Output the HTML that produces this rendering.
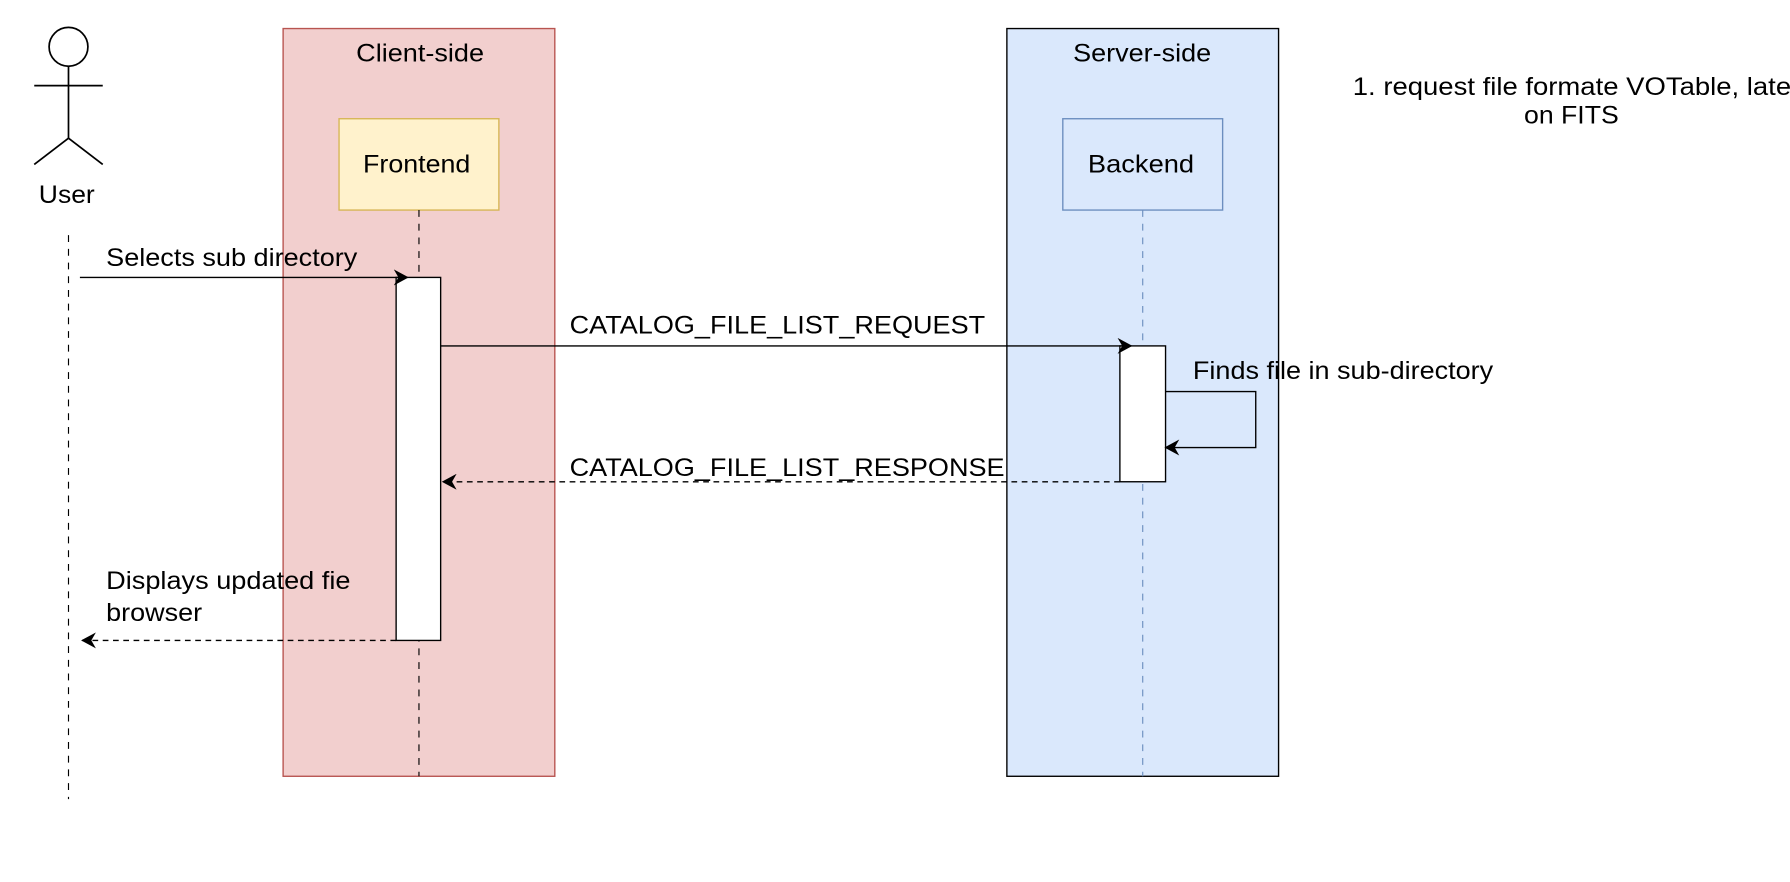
<!DOCTYPE html>
<html><head><meta charset="utf-8"><style>html,body{margin:0;padding:0;background:#fff;}svg{display:block}text{font-family:"Liberation Sans",Arial,sans-serif;font-size:22px;}</style></head>
<body>
<svg width="1790" height="882" viewBox="0 0 1568 772.6" xmlns="http://www.w3.org/2000/svg">
<defs>
<marker id="a" markerWidth="14" markerHeight="14" refX="12" refY="7" orient="auto" markerUnits="userSpaceOnUse">
<path d="M0,0 L13,7 L0,14 L4,7 Z" fill="#000"/>
</marker>
</defs>
<rect x="0" y="0" width="1568" height="772.6" fill="#fff"/>
<circle cx="60" cy="41" r="17" fill="#fff" stroke="#000" stroke-width="1.5"/>
<line x1="60" y1="58" x2="60" y2="121" stroke="#000" stroke-width="1.5"/>
<line x1="30" y1="75" x2="90" y2="75" stroke="#000" stroke-width="1.5"/>
<line x1="60" y1="121" x2="30" y2="144" stroke="#000" stroke-width="1.5"/>
<line x1="60" y1="121" x2="90" y2="144" stroke="#000" stroke-width="1.5"/>
<text x="34" y="178" textLength="49" lengthAdjust="spacingAndGlyphs">User</text>
<line x1="60" y1="206" x2="60" y2="700" stroke="#000" stroke-dasharray="6,6"/>
<rect x="248" y="25" width="238" height="655" fill="#f2cfce" stroke="#b85450" stroke-width="1.2"/>
<text x="312" y="54" textLength="112" lengthAdjust="spacingAndGlyphs">Client-side</text>
<rect x="297" y="104" width="140" height="80" fill="#fff2cc" stroke="#d6b656" stroke-width="1.2"/>
<text x="318" y="151" textLength="94" lengthAdjust="spacingAndGlyphs">Frontend</text>
<line x1="367" y1="184" x2="367" y2="680" stroke="#000" stroke-dasharray="6,6"/>
<rect x="347" y="243" width="39" height="318" fill="#fff" stroke="#000" stroke-width="1.2"/>
<rect x="882" y="25" width="238" height="655" fill="#dae8fc" stroke="#000" stroke-width="1.2"/>
<text x="940" y="54" textLength="121" lengthAdjust="spacingAndGlyphs">Server-side</text>
<rect x="931" y="104" width="140" height="80" fill="#dae8fc" stroke="#6c8ebf" stroke-width="1.2"/>
<text x="953" y="151" textLength="93" lengthAdjust="spacingAndGlyphs">Backend</text>
<line x1="1001" y1="184" x2="1001" y2="680" stroke="#6c8ebf" stroke-dasharray="6,6"/>
<rect x="981" y="303" width="40" height="119" fill="#fff" stroke="#000" stroke-width="1.2"/>
<line x1="70" y1="243" x2="357" y2="243" stroke="#000" stroke-width="1.2" marker-end="url(#a)"/>
<text x="93" y="233" textLength="220" lengthAdjust="spacingAndGlyphs">Selects sub directory</text>
<line x1="386" y1="303" x2="991" y2="303" stroke="#000" stroke-width="1.2" marker-end="url(#a)"/>
<text x="499" y="292" textLength="364" lengthAdjust="spacingAndGlyphs">CATALOG_FILE_LIST_REQUEST</text>
<polyline points="1021,343 1100,343 1100,392 1021,392" fill="none" stroke="#000" stroke-width="1.2" marker-end="url(#a)"/>
<text x="1045" y="332" textLength="263" lengthAdjust="spacingAndGlyphs">Finds file in sub-directory</text>
<line x1="981" y1="422" x2="388" y2="422" stroke="#000" stroke-width="1.2" stroke-dasharray="5,4" marker-end="url(#a)"/>
<text x="499" y="417" textLength="381" lengthAdjust="spacingAndGlyphs">CATALOG_FILE_LIST_RESPONSE</text>
<line x1="347" y1="561" x2="72" y2="561" stroke="#000" stroke-width="1.2" stroke-dasharray="5,4" marker-end="url(#a)"/>
<text x="93" y="516" textLength="214" lengthAdjust="spacingAndGlyphs">Displays updated fie</text>
<text x="93" y="544" textLength="84" lengthAdjust="spacingAndGlyphs">browser</text>
<text x="1185" y="83" textLength="392" lengthAdjust="spacingAndGlyphs">1. request file formate VOTable, later</text>
<text x="1335" y="108" textLength="83" lengthAdjust="spacingAndGlyphs">on FITS</text>
</svg>
</body></html>
